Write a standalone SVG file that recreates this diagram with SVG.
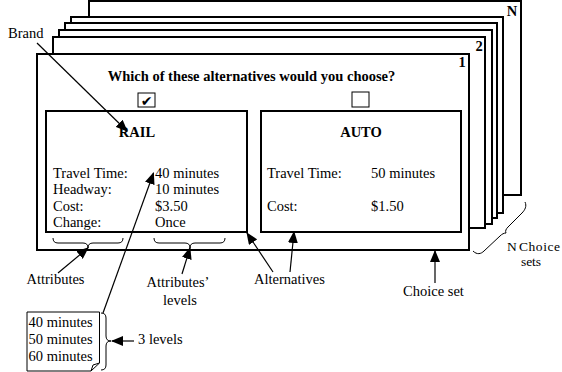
<svg xmlns="http://www.w3.org/2000/svg" width="562" height="372" viewBox="0 0 562 372">
<defs>
<marker id="ah" markerUnits="userSpaceOnUse" markerWidth="12" markerHeight="10" viewBox="0 0 12 10" refX="11" refY="5" orient="auto">
<path d="M0,0 L12,5 L0,10 Z" fill="#000"/>
</marker>
</defs>
<style>
text{font-family:"Liberation Serif","Times New Roman",serif;fill:#000}
.t{font-size:14.5px}
.s{font-size:13.5px}
.b{font-size:14.5px;font-weight:bold}
.card{fill:#fff;stroke:#000;stroke-width:2}
.box{fill:#fff;stroke:#000;stroke-width:2}
.chk{fill:#fff;stroke:#000;stroke-width:1}
.ln{fill:none;stroke:#000;stroke-width:1.2}
.br{fill:none;stroke:#000;stroke-width:1}
</style>
<rect width="562" height="372" fill="#fff"/>
<g id="card-N"><rect class="card" x="89" y="1" width="432" height="194"/><text class="b" x="512" y="16" text-anchor="middle">N</text></g>
<g id="card-a"><rect class="card" x="71" y="17" width="432" height="196"/></g>
<g id="card-b"><rect class="card" x="65" y="23" width="432" height="195"/></g>
<g id="card-c"><rect class="card" x="59" y="30" width="433" height="194"/></g>
<g id="card-2"><rect class="card" x="53" y="37" width="432" height="191"/><text class="b" x="479" y="51" text-anchor="middle">2</text></g>
<g id="card-1">
<rect class="card" x="37" y="54" width="432" height="196"/>
<text class="b" x="462" y="67" text-anchor="middle">1</text>
<text class="b" x="251.5" y="81" text-anchor="middle">Which of these alternatives would you choose?</text>
</g>
<g id="check-rail"><rect class="chk" x="138" y="93" width="17" height="14"/><text x="146.5" y="105.5" text-anchor="middle" style="font-family:'DejaVu Sans',sans-serif;font-size:14px">✔</text></g>
<g id="check-auto"><rect class="chk" x="352" y="92" width="17" height="15"/></g>
<g id="rail">
<rect class="box" x="46" y="111" width="201" height="121"/>
<text class="b" x="137" y="137" text-anchor="middle">RAIL</text>
<text class="t" x="53" y="178">Travel Time:</text>
<text class="t" x="53" y="194">Headway:</text>
<text class="t" x="53" y="211">Cost:</text>
<text class="t" x="53" y="227">Change:</text>
<text class="t" x="155" y="178">40 minutes</text>
<text class="t" x="155" y="194">10 minutes</text>
<text class="t" x="155" y="211">$3.50</text>
<text class="t" x="155" y="227">Once</text>
</g>
<g id="auto">
<rect class="box" x="261" y="111" width="200" height="121"/>
<text class="b" x="361" y="137" text-anchor="middle">AUTO</text>
<text class="t" x="267" y="178">Travel Time:</text>
<text class="t" x="371" y="178">50 minutes</text>
<text class="t" x="267" y="211">Cost:</text>
<text class="t" x="371" y="211">$1.50</text>
</g>
<g id="levels-note">
<path d="M27,312 H99.5 V363 L91,371 H27 Z" fill="#fff" stroke="#000" stroke-width="1"/>
<path d="M99.5,363 L93,365 L91,371" fill="none" stroke="#000" stroke-width="1"/>
<text class="t" x="28.5" y="327">40 minutes</text>
<text class="t" x="28.5" y="344">50 minutes</text>
<text class="t" x="28.5" y="361">60 minutes</text>
</g>
<g id="braces">
<path class="br" d="M53,238 Q53,243 58,243 H83 Q88,243 88,248 Q88,243 93,243 H118 Q123,243 123,238"/>
<path class="br" d="M154,238 Q154,243 159,243 H185 Q190,243 190,248 Q190,243 195,243 H220 Q225,243 225,238"/>
<path class="br" d="M101,313 Q106,313 106,318 V336 Q106,341 111,341 Q106,341 106,346 V365 Q106,370 101,370"/>
<path class="br" d="M473,251 C477,255 481,254 484,251 L500,236 C502,234 504,233 506,233 C505,231 506,229 508,227 L522,213 C525,210 527,206 525,202"/>
</g>
<g id="labels">
<text class="t" x="8" y="38">Brand</text>
<text class="t" x="55.5" y="284" text-anchor="middle">Attributes</text>
<text class="t" x="178" y="287" text-anchor="middle">Attributes’</text>
<text class="t" x="180" y="305" text-anchor="middle">levels</text>
<text class="t" x="289.5" y="284" text-anchor="middle">Alternatives</text>
<text class="t" x="433.5" y="296" text-anchor="middle">Choice set</text>
<text class="s" x="507" y="251">N</text>
<text class="s" x="519" y="251" textLength="41">Choice</text>
<text class="s" x="531" y="266" text-anchor="middle">sets</text>
<text class="t" x="138" y="344">3 levels</text>
</g>
<g id="connectors">
<line class="ln" x1="37" y1="43" x2="127" y2="131" marker-end="url(#ah)"/>
<line class="ln" x1="58" y1="273" x2="88" y2="248" marker-end="url(#ah)"/>
<line class="ln" x1="103" y1="313" x2="153.5" y2="173" marker-end="url(#ah)"/>
<line class="ln" x1="182" y1="274" x2="190" y2="248" marker-end="url(#ah)"/>
<line class="ln" x1="273" y1="272" x2="247" y2="233" marker-end="url(#ah)"/>
<line class="ln" x1="290" y1="272" x2="294" y2="232" marker-end="url(#ah)"/>
<line class="ln" x1="435" y1="283" x2="435" y2="251" marker-end="url(#ah)"/>
<line class="ln" x1="134" y1="341" x2="112" y2="341" marker-end="url(#ah)"/>
</g>
</svg>
